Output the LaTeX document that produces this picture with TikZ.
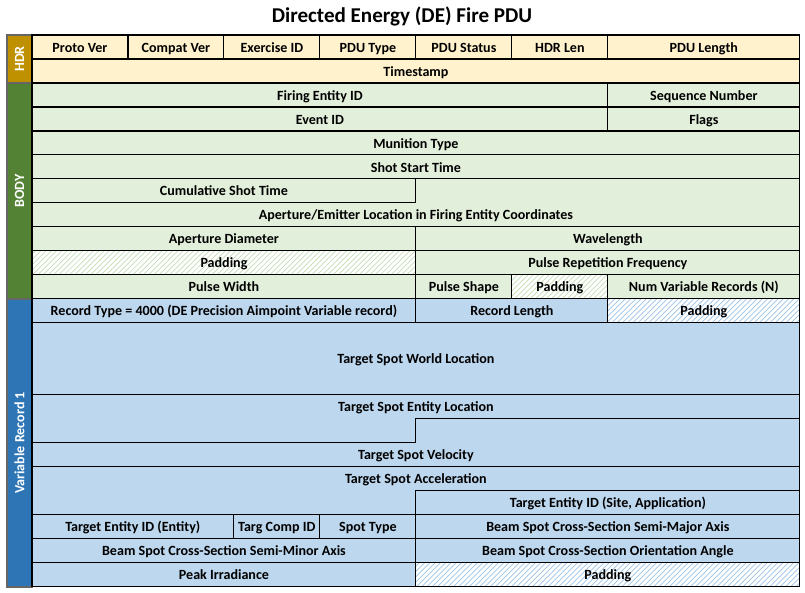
\documentclass[tikz,border=0pt]{standalone}
\usepackage{fontspec}
\setmainfont{Carlito}
\usetikzlibrary{patterns,calc}
\definecolor{hdrfill}{HTML}{FFF2CC}
\definecolor{hdrbar}{HTML}{BF9000}
\definecolor{bodyfill}{HTML}{E2EFDA}
\definecolor{bodybar}{HTML}{548235}
\definecolor{recfill}{HTML}{BDD7EE}
\definecolor{recbar}{HTML}{2E75B6}
\definecolor{bodyhatch}{HTML}{C5DDB5}
\definecolor{rechatch}{HTML}{9DC3E6}
\tikzset{
  cell/.style={draw=black, line width=0.6pt},
  lbl/.style={font=\bfseries\fontsize{8}{10}\selectfont, inner sep=0pt,
              text height=1.6ex, text depth=0.4ex},
  hdr/.style={cell, fill=hdrfill},
  body/.style={cell, fill=bodyfill},
  rec/.style={cell, fill=recfill},
  bodypad/.style={cell, preaction={pattern=north east lines, pattern color=bodyhatch}},
  recpad/.style={cell, preaction={pattern=north east lines, pattern color=rechatch}},
  bar/.style={draw=black!60, line width=0.6pt},
  barlbl/.style={font=\bfseries\fontsize{8}{10}\selectfont, text=white, rotate=90}
}
% \fld{style}{name}{c1}{r1}{c2}{r2}{text}
\newcommand{\fld}[7]{%
  \draw[#1] (#3,#4) rectangle (#5,#6);
  \node[lbl] (#2) at ($(#3,#4)!0.5!(#5,#6)$) {#7};}
\begin{document}
\begin{tikzpicture}[x=0.02cm, y=-0.02cm]
  \useasboundingbox (0,0) rectangle (805,592);
  \node[font=\bfseries\fontsize{12}{14}\selectfont] (title) at (402,16) {Directed Energy (DE) Fire PDU};

  % side bars
  \draw[bar, fill=hdrbar] (7,35) rectangle (32,83);
  \node[barlbl] (hdrlbl) at (19.5,59) {HDR};
  \draw[bar, fill=bodybar] (7,83) rectangle (32,299);
  \node[barlbl] (bodylbl) at (19.5,191) {BODY};
  \draw[bar, fill=recbar] (7,299) rectangle (32,587);
  \node[barlbl] (reclbl) at (19.5,443) {Variable Record 1};

  \begin{scope}[shift={(0.64cm,-0.7cm)}, x=1.92cm, y=-0.48cm]
    % header
    \foreach \c/\n/\t in {0/pver/Proto Ver, 1/cver/Compat Ver, 2/exid/Exercise ID,
                          3/ptype/PDU Type, 4/pstat/PDU Status, 5/hlen/HDR Len} {
      \fld{hdr}{\n}{\c}{0}{\c+1}{1}{\t}
    }
    \fld{hdr}{plen}{6}{0}{8}{1}{PDU Length}
    \fld{hdr}{tstamp}{0}{1}{8}{2}{Timestamp}

    % body
    \fld{body}{firing}{0}{2}{6}{3}{Firing Entity ID}
    \fld{body}{seqnum}{6}{2}{8}{3}{Sequence Number}
    \fld{body}{event}{0}{3}{6}{4}{Event ID}
    \fld{body}{flags}{6}{3}{8}{4}{Flags}
    \fld{body}{munition}{0}{4}{8}{5}{Munition Type}
    \fld{body}{shotstart}{0}{5}{8}{6}{Shot Start Time}
    \fld{body}{cumshot}{0}{6}{4}{7}{Cumulative Shot Time}
    \draw[body] (4,6) -- (8,6) -- (8,8) -- (0,8) -- (0,7) -- (4,7) -- cycle;
    \node[lbl] (aploc) at (4,7.5) {Aperture/Emitter Location in Firing Entity Coordinates};
    \fld{body}{apdiam}{0}{8}{4}{9}{Aperture Diameter}
    \fld{body}{wavelen}{4}{8}{8}{9}{Wavelength}
    \fld{bodypad}{padA}{0}{9}{4}{10}{Padding}
    \fld{body}{prf}{4}{9}{8}{10}{Pulse Repetition Frequency}
    \fld{body}{pwidth}{0}{10}{4}{11}{Pulse Width}
    \fld{body}{pshape}{4}{10}{5}{11}{Pulse Shape}
    \fld{bodypad}{padB}{5}{10}{6}{11}{Padding}
    \fld{body}{numvar}{6}{10}{8}{11}{Num Variable Records (N)}

    % variable record
    \fld{rec}{rtype}{0}{11}{4}{12}{Record Type = 4000 (DE Precision Aimpoint Variable record)}
    \fld{rec}{rlen}{4}{11}{6}{12}{Record Length}
    \fld{recpad}{padC}{6}{11}{8}{12}{Padding}
    \fld{rec}{worldloc}{0}{12}{8}{15}{Target Spot World Location}
    \draw[rec] (0,15) -- (8,15) -- (8,16) -- (4,16) -- (4,17) -- (0,17) -- cycle;
    \node[lbl] (entloc) at (4,15.5) {Target Spot Entity Location};
    \draw[rec] (4,16) -- (8,16) -- (8,18) -- (0,18) -- (0,17) -- (4,17) -- cycle;
    \node[lbl] (velo) at (4,17.5) {Target Spot Velocity};
    \draw[rec] (0,18) -- (8,18) -- (8,19) -- (4,19) -- (4,20) -- (0,20) -- cycle;
    \node[lbl] (accel) at (4,18.5) {Target Spot Acceleration};
    \fld{rec}{tgtsite}{4}{19}{8}{20}{Target Entity ID (Site, Application)}
    \fld{rec}{tgtent}{0}{20}{2.1}{21}{Target Entity ID (Entity)}
    \fld{rec}{tcomp}{2.1}{20}{3}{21}{Targ Comp ID}
    \fld{rec}{stype}{3}{20}{4}{21}{Spot Type}
    \fld{rec}{semimaj}{4}{20}{8}{21}{Beam Spot Cross-Section Semi-Major Axis}
    \fld{rec}{semimin}{0}{21}{4}{22}{Beam Spot Cross-Section Semi-Minor Axis}
    \fld{rec}{orient}{4}{21}{8}{22}{Beam Spot Cross-Section Orientation Angle}
    \fld{rec}{peak}{0}{22}{4}{23}{Peak Irradiance}
    \fld{recpad}{padD}{4}{22}{8}{23}{Padding}
  \end{scope}
\end{tikzpicture}
\end{document}
